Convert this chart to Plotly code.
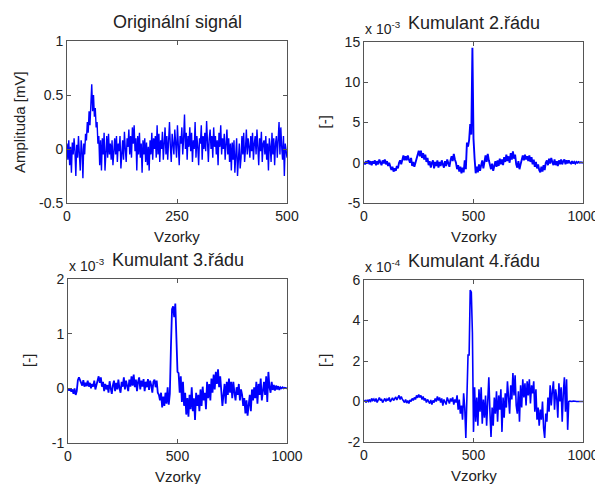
import numpy as np
import plotly.graph_objects as go

# ---------------- data ----------------
# Original signal (mV), samples 0..500
signal_mv = [
    0.05, -0.1, 0.08, -0.15, 0.02, -0.22, 0.06, -0.05, 0.1, -0.02,
    -0.25, 0.04, -0.08, 0.12, -0.05, -0.2, 0.08, 0.0, -0.27, 0.05,
    -0.05, 0.14, 0.08, 0.25, 0.15, 0.35, 0.22, 0.4, 0.6, 0.35,
    0.5, 0.3, 0.38, 0.2, 0.25, 0.05, 0.12, -0.15, 0.08, -0.2,
    0.1, -0.05, 0.15, -0.2, 0.05, 0.12, -0.08, 0.14, -0.05, 0.05,
    -0.1, 0.08, -0.15, 0.02, 0.1, -0.05, 0.12, -0.12, 0.05, -0.02,
    0.12, -0.18, 0.04, 0.08, -0.1, 0.16, 0.0, -0.12, 0.1, 0.02,
    0.18, -0.05, 0.12, -0.08, 0.2, 0.05, 0.22, -0.02, 0.1, -0.2,
    0.12, -0.05, 0.15, -0.08, 0.05, -0.22, 0.08, -0.05, 0.1, -0.12,
    0.06, -0.15, 0.02, -0.2, 0.08, -0.05, 0.15, -0.1, 0.1, 0.0,
    0.12, -0.08, 0.22, -0.05, 0.14, -0.12, 0.08, 0.0, 0.16, -0.1,
    0.05, 0.2, -0.05, 0.12, -0.1, 0.08, 0.25, 0.02, -0.12, 0.14,
    0.05, -0.05, 0.18, 0.02, -0.08, 0.22, 0.08, -0.15, 0.12, 0.05,
    0.2, -0.05, 0.1, 0.32, 0.0, 0.15, -0.1, 0.12, 0.02, 0.2,
    -0.02, 0.15, -0.12, 0.08, 0.0, 0.25, -0.08, 0.12, 0.02, -0.15,
    0.1, 0.05, 0.22, -0.1, 0.12, 0.0, 0.15, -0.02, 0.26, 0.05,
    -0.12, 0.1, 0.18, 0.0, 0.12, -0.08, 0.2, 0.02, 0.12, -0.05,
    0.08, -0.15, 0.15, 0.02, 0.22, -0.05, 0.1, 0.0, 0.14, -0.1,
    0.05, 0.18, -0.05, 0.1, -0.12, 0.05, -0.2, 0.06, -0.1, 0.08,
    -0.22, -0.05, 0.1, -0.25, -0.1, 0.05, -0.18, -0.08, 0.12, -0.05,
    0.15, -0.12, 0.0, 0.18, -0.05, 0.1, 0.02, -0.08, 0.12, -0.02,
    0.15, -0.1, 0.05, 0.12, -0.05, 0.18, 0.02, -0.15, 0.1, -0.02,
    0.16, -0.12, 0.05, 0.08, -0.05, 0.12, -0.1, 0.05, -0.2, 0.1,
    0.02, -0.12, 0.15, -0.05, 0.1, -0.15, 0.05, 0.12, -0.08, 0.15,
    0.25, -0.05, 0.2, 0.02, -0.1, 0.12, -0.25, 0.05, -0.05, -0.08,
]

# 2nd order cumulant (x 1e-3), samples 0..1000
kum2 = [
    0.1, -0.2, 0.2, -0.1, 0.3, -0.2, 0.2, -0.3, 0.2, -0.1,
    0.3, -0.3, 0.2, -0.2, 0.4, -0.1, -0.3, 0.3, -0.1, 0.4,
    -0.2, 0.2, -0.4, 0.0, -0.6, -0.9, -0.5, -1.1, -0.7, -1.0,
    -0.4, -0.7, 0.0, 0.3, -0.2, 0.6, 0.9, 0.3, 0.8, 0.3,
    0.9, 0.4, 0.0, 0.6, -0.4, 0.1, -0.5, 0.0, 0.4, 1.0,
    1.5, 0.8, 1.5, 0.6, 1.2, 0.4, 1.0, 0.1, 0.6, -0.3,
    0.2, -0.6, 0.0, 0.3, -0.7, 0.1, -0.4, 0.3, -0.6, 0.1,
    -0.4, 0.3, -0.2, -0.6, 0.2, -0.4, 0.4, -0.2, -0.5, 0.3,
    0.8, 0.2, 1.1, 0.4, 0.0, -0.8, -0.3, -1.1, -0.5, -1.3,
    -0.6, -1.2, 0.3, -0.8, 2.5, 2.0, 2.8, 4.8, 3.5, 14.3,
    3.0, 0.5, -1.3, -0.5, -1.2, -0.2, -1.0, -0.3, 0.3, -0.7,
    0.5, 0.9, 0.1, 1.1, 0.3, -0.3, -0.8, -0.1, -1.0, -0.4,
    0.2, -0.5, 0.3, -0.4, 0.5, -0.2, 0.4, -0.3, 0.7, 0.1,
    1.0, 0.2, 0.8, 0.0, 1.2, 0.4, 1.4, 0.5, 1.0, -0.2,
    -0.6, 0.2, -0.8, -0.2, 0.3, 0.9, 0.3, 1.0, 0.4, 0.8,
    0.2, 0.9, 0.1, 0.7, -0.2, 0.4, -0.5, 0.1, -0.7, -0.2,
    -0.9, -1.2, -0.5, -1.1, -0.3, -0.9, 0.0, 0.3, -0.3, 0.5,
    -0.1, 0.6, 0.1, -0.3, 0.4, -0.3, 0.2, -0.4, 0.3, -0.2,
    0.4, -0.2, 0.2, 0.4, -0.2, 0.3, -0.1, 0.3, 0.0, -0.1,
    0.2, -0.1, 0.1, -0.1, 0.1, 0.0, 0.1, 0.0, 0.05, 0.0,
    0.0,
]

# 3rd order cumulant (x 1e-3), samples 0..1000
kum3 = [
    0.0, -0.04, 0.0, -0.06, -0.02, -0.1, 0.0, -0.12, -0.05, 0.15,
    0.2, 0.15, 0.1, 0.05, 0.15, 0.03, 0.1, 0.04, 0.14, 0.03,
    0.1, 0.0, 0.08, 0.03, 0.14, -0.02, 0.06, 0.15, 0.22, 0.1,
    0.2, 0.03, 0.12, -0.05, 0.08, -0.02, 0.06, -0.08, 0.13, 0.0,
    -0.1, 0.06, 0.14, -0.05, 0.1, -0.02, 0.16, 0.0, -0.08, 0.12,
    0.03, 0.2, -0.02, 0.14, 0.06, -0.05, 0.16, 0.03, 0.22, 0.05,
    0.25, 0.02, 0.16, -0.05, 0.12, 0.2, -0.02, 0.14, 0.03, 0.17,
    -0.05, 0.12, 0.02, 0.17, -0.03, 0.14, 0.06, -0.08, 0.12, 0.16,
    0.02, 0.14, -0.08, -0.12, -0.22, -0.08, -0.35, -0.15, -0.32, -0.08,
    -0.28, 0.02, -0.3, -0.1, 0.75, 1.45, 1.5, 1.3, 1.55, 1.0,
    0.3, 0.28, -0.08, 0.22, -0.25, 0.12, -0.32, -0.08, -0.48, -0.18,
    -0.52, -0.12, -0.38, 0.02, -0.42, -0.18, -0.58, -0.08, -0.32, -0.12,
    -0.42, -0.02, -0.32, 0.03, -0.22, -0.08, -0.38, 0.12, -0.18, 0.08,
    -0.22, 0.18, -0.08, 0.25, -0.02, 0.3, 0.08, 0.35, 0.02, 0.22,
    -0.12, -0.32, -0.12, 0.08, -0.28, 0.12, -0.12, 0.18, -0.08, 0.12,
    -0.18, 0.12, -0.08, -0.22, 0.02, -0.12, 0.08, -0.22, -0.02, -0.12,
    -0.32, -0.18, -0.46, -0.22, -0.5, -0.28, -0.12, -0.42, -0.02, -0.22,
    0.02, -0.18, 0.12, -0.28, 0.08, -0.12, 0.18, -0.22, 0.02, 0.12,
    -0.12, 0.22, -0.25, 0.3, 0.02, -0.08, 0.12, -0.03, 0.06, -0.04,
    0.05, -0.02, 0.04, -0.03, 0.02, 0.0, 0.02, 0.0, 0.01, 0.0,
    0.0,
]

# 4th order cumulant (x 1e-4), samples 0..1000
kum4 = [
    0.0, 0.05, -0.05, 0.08, 0.0, 0.1, -0.03, 0.15, 0.05, 0.12,
    0.0, 0.15, -0.05, 0.1, 0.2, 0.05, 0.12, -0.05, 0.08, 0.15,
    0.0, 0.12, 0.05, 0.2, -0.02, 0.1, 0.18, 0.05, 0.15, 0.22,
    0.08, 0.2, 0.3, 0.1, 0.25, 0.12, 0.05, -0.05, 0.1, -0.08,
    0.05, -0.1, 0.08, 0.0, 0.15, 0.05, 0.2, 0.1, 0.3, 0.18,
    0.35, 0.2, 0.3, 0.1, 0.25, 0.05, 0.15, -0.05, 0.1, 0.0,
    -0.1, 0.08, -0.15, 0.05, -0.05, 0.15, 0.0, 0.25, 0.05, 0.2,
    -0.05, 0.15, -0.2, 0.1, 0.0, -0.15, 0.2, 0.05, -0.1, 0.15,
    0.0, 0.2, -0.15, 0.1, -0.05, 0.3, -0.4, 0.1, -0.6, -0.2,
    -0.9, 0.4, -0.3, -1.8, 0.3, 2.3, 2.3, 5.5, 5.4, 3.4,
    -1.5, 0.7, -1.0, 0.2, -1.2, 0.6, -0.5, 0.7, -1.1, 0.1,
    -0.8, 0.3, -1.2, 0.5, 1.2, -0.5, -1.75, -0.3, -1.2, 0.2,
    -0.6, 0.5, -1.0, 0.3, -0.4, 0.6, -1.5, 0.2, -0.8, 0.4,
    -0.3, 1.0, 0.2, -0.6, 0.8, 0.1, 1.4, 0.3, 1.3, -0.2,
    -0.6, 0.5, -1.0, 0.8, -0.3, 1.1, 0.2, 0.9, -0.2, 1.0,
    0.3, 1.1, -0.1, 0.8, 0.4, 1.0, -0.5, 0.6, -0.9, -0.3,
    -1.2, -0.4, -0.9, 0.0, -1.3, -1.8, -0.6, -1.0, 0.2, -0.5,
    0.8, -0.2, 0.5, 1.0, -0.4, 0.6, 0.2, -0.8, 0.9, 0.0,
    0.7, -1.0, 0.4, 1.2, -0.5, 1.1, -1.4, 0.0, 0.02, 0.0,
    0.0, 0.02, 0.0, 0.01, 0.0, 0.0, 0.01, 0.0, 0.0, 0.0,
    0.0,
]

x_sig = np.linspace(0, 500, len(signal_mv))
x_k2 = np.linspace(0, 1000, len(kum2))
x_k3 = np.linspace(0, 1000, len(kum3))
x_k4 = np.linspace(0, 1000, len(kum4))

titles = ["Originální signál", "Kumulant 2.řádu", "Kumulant 3.řádu", "Kumulant 4.řádu"]
exponents = [None, "x 10<sup>-3</sup>", "x 10<sup>-3</sup>", "x 10<sup>-4</sup>"]
ylabels = ["Amplituda [mV]", "[-]", "[-]", "[-]"]
xlabel = "Vzorky"

x_ticks = [[0, 250, 500], [0, 500, 1000], [0, 500, 1000], [0, 500, 1000]]
y_ticks = [[-0.5, 0, 0.5, 1], [-5, 0, 5, 10, 15], [-1, 0, 1, 2], [-2, 0, 2, 4, 6]]
y_ticktext = [["-0.5", "0", "0.5", "1"], ["-5", "0", "5", "10", "15"],
              ["-1", "0", "1", "2"], ["-2", "0", "2", "4", "6"]]

# ---------------- figure ----------------
# The page body has an 8 px margin, so the figure is drawn 8 px smaller
# and all page-pixel positions are shifted by that offset.
PAGE_W, PAGE_H = 603, 484
OFF = 8
W, H = PAGE_W - OFF, PAGE_H - OFF
FONT = "Liberation Sans, Arial, sans-serif"
BLUE = "#0000ff"
AX = "#555555"
TXT = "#222222"


def px(x):
    return (x - OFF) / W


def py(y):
    return 1 - (y - OFF) / H


# plot boxes in page pixels: (left, right, top, bottom)
boxes = [(67, 287, 41, 203), (364, 583, 42, 203), (68, 287, 279, 443), (364, 583, 280, 442)]
widths = [1.4, 1.9, 1.8, 1.6]

fig = go.Figure()
series = [(x_sig, signal_mv), (x_k2, kum2), (x_k3, kum3), (x_k4, kum4)]
for i, (xs, ys) in enumerate(series):
    sfx = "" if i == 0 else str(i + 1)
    fig.add_trace(go.Scatter(x=xs, y=ys, mode="lines", xaxis="x" + sfx, yaxis="y" + sfx,
                             line=dict(color=BLUE, width=widths[i]), showlegend=False,
                             hoverinfo="skip"))

layout = dict(width=W, height=H, margin=dict(l=0, r=0, t=0, b=0, autoexpand=False),
              paper_bgcolor="white", plot_bgcolor="white",
              font=dict(family=FONT, size=14, color=TXT), annotations=[])

for i, (l, r, t, b) in enumerate(boxes):
    sfx = "" if i == 0 else str(i + 1)
    xr = [0, 500] if i == 0 else [0, 1000]
    yr = [y_ticks[i][0], y_ticks[i][-1]]
    common = dict(showline=True, mirror="ticks", linecolor=AX, linewidth=1,
                  ticks="inside", ticklen=4, tickcolor=AX, showgrid=False, zeroline=False,
                  tickfont=dict(family=FONT, size=14, color=TXT), fixedrange=True,
                  automargin=False)
    layout["xaxis" + sfx] = dict(domain=[px(l), px(r)], range=xr, tickvals=x_ticks[i],
                                 anchor="y" + sfx, **common)
    layout["yaxis" + sfx] = dict(domain=[py(b), py(t)], range=yr, tickvals=y_ticks[i],
                                 ticktext=y_ticktext[i], anchor="x" + sfx, **common)
    cx = (l + r) / 2
    layout["annotations"].append(dict(text=titles[i], x=px(cx), y=py(t - 19),
                                      xref="paper", yref="paper", showarrow=False,
                                      xanchor="center", yanchor="middle",
                                      font=dict(family=FONT, size=18, color=TXT)))
    if exponents[i]:
        layout["annotations"].append(dict(text=exponents[i], x=px(l - 1), y=py(t - 14),
                                          xref="paper", yref="paper", showarrow=False,
                                          xanchor="left", yanchor="middle",
                                          font=dict(family=FONT, size=14, color=TXT)))
    layout["annotations"].append(dict(text=xlabel, x=px(cx), y=py(b + 33),
                                      xref="paper", yref="paper", showarrow=False,
                                      xanchor="center", yanchor="middle",
                                      font=dict(family=FONT, size=15, color=TXT)))
    ylx = 19 if i == 0 else (l - 40)
    layout["annotations"].append(dict(text=ylabels[i], x=px(ylx), y=py((t + b) / 2),
                                      xref="paper", yref="paper", showarrow=False,
                                      xanchor="center", yanchor="middle", textangle=-90,
                                      font=dict(family=FONT, size=15, color=TXT)))

fig.update_layout(**layout)
fig.write_html("out.html")
